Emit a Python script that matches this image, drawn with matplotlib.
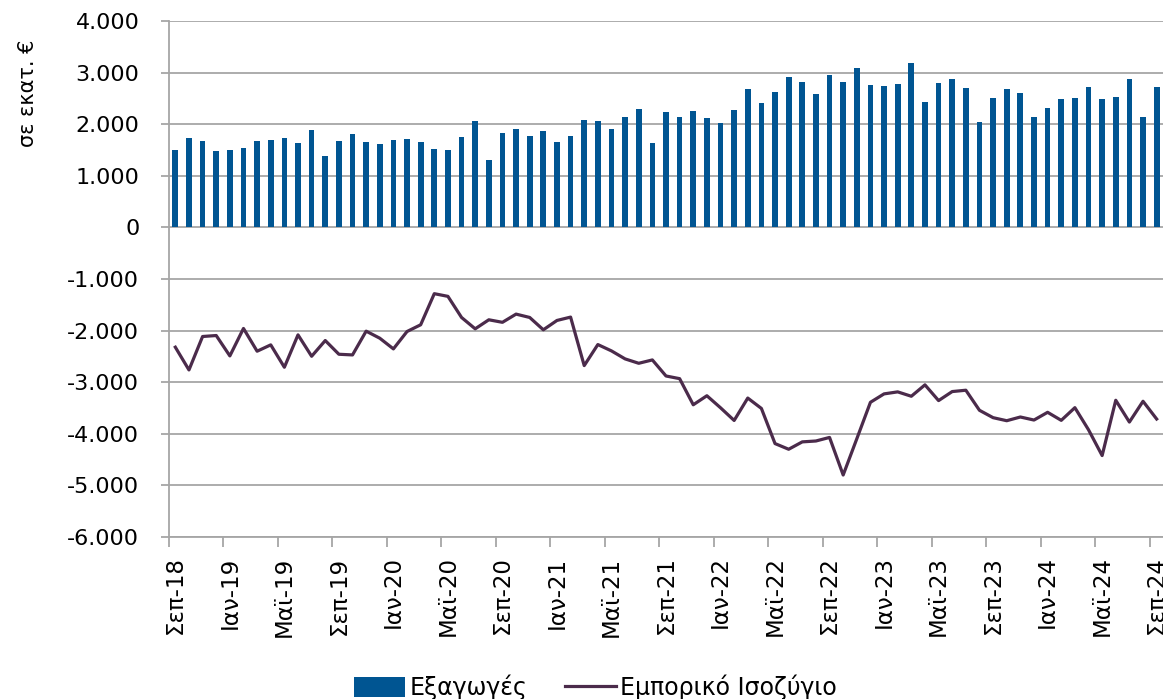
import numpy as np
import matplotlib
matplotlib.use("Agg")
import matplotlib.pyplot as plt
from matplotlib.ticker import FuncFormatter, FixedLocator

plt.rcParams['font.family'] = ['DejaVu Sans']

# monthly data, Sep-18 .. Sep-24 (million euro)
month_names = ['Ιαν', 'Φεβ', 'Μαρ', 'Απρ', 'Μαϊ', 'Ιουν',
               'Ιουλ', 'Αυγ', 'Σεπ', 'Οκτ', 'Νοε', 'Δεκ']
start_year, start_month, n_months = 2018, 9, 73

exports = [1497, 1737, 1672, 1484, 1497, 1542, 1672, 1685, 1737, 1640,
           1892, 1374, 1678, 1802, 1659, 1607, 1691, 1717, 1646, 1517,
           1504, 1756, 2054, 1309, 1828, 1912, 1776, 1866, 1659, 1776,
           2074, 2061, 1912, 2139, 2301, 1640, 2236, 2145, 2262, 2119,
           2029, 2281, 2683, 2417, 2625, 2923, 2826, 2592, 2949, 2813,
           3091, 2767, 2748, 2787, 3182, 2437, 2793, 2878, 2709, 2048,
           2502, 2677, 2612, 2132, 2307, 2489, 2515, 2716, 2495, 2528,
           2884, 2145, 2722]

balance = [-2322, -2763, -2115, -2096, -2491, -1959, -2400, -2277, -2711, -2083,
           -2498, -2193, -2459, -2472, -2011, -2148, -2355, -2018, -1888, -1285,
           -1337, -1746, -1966, -1791, -1840, -1681, -1746, -1985, -1804, -1739,
           -2679, -2271, -2394, -2549, -2634, -2569, -2880, -2932, -3438, -3263,
           -3496, -3742, -3308, -3509, -4190, -4300, -4157, -4140, -4071, -4799,
           -4097, -3390, -3227, -3188, -3273, -3052, -3357, -3182, -3156, -3545,
           -3688, -3747, -3675, -3734, -3584, -3740, -3494, -3922, -4422, -3351,
           -3773, -3370, -3714]

labels = []
for k in range(n_months):
    m = (start_month - 1 + k) % 12
    y = start_year + (start_month - 1 + k) // 12
    labels.append(f"{month_names[m]}-{y % 100:02d}")

bar_color = '#005592'
line_color = '#4b2b4b'
grid_color = '#a6a6a6'

fig = plt.figure(figsize=(11.63, 6.99), dpi=100)
ax = fig.add_axes([0.1449, 0.2318, 0.8555, 0.7382])

x = np.arange(n_months)
bars = ax.bar(x, exports, width=0.42, color=bar_color, zorder=3)
line, = ax.plot(x, balance, color=line_color, lw=2.3, zorder=4)

ax.set_xlim(-0.5, n_months - 0.5)
ax.set_ylim(-6000, 4000)
ax.set_yticks(np.arange(-6000, 4001, 1000))
ax.yaxis.set_major_formatter(FuncFormatter(lambda v, p: f"{int(v):,}".replace(',', '.')))
ax.grid(axis='y', color=grid_color, lw=1.3, zorder=0)

# category labels every 4 months, tick marks on category boundaries
ax.xaxis.set_major_locator(FixedLocator(x[::4]))
ax.set_xticklabels(labels[::4], rotation=90)
ax.xaxis.set_minor_locator(FixedLocator(np.arange(-0.5, n_months, 4)))
ax.tick_params(axis='x', which='major', length=0, pad=14, labelsize=16.5)
ax.tick_params(axis='x', which='minor', length=7, width=1.3, color=grid_color)
ax.tick_params(axis='y', length=6, width=1.3, color=grid_color, labelsize=16, pad=15)

for s in ['top', 'right']:
    ax.spines[s].set_visible(False)
for s in ['left', 'bottom']:
    ax.spines[s].set_color(grid_color)
    ax.spines[s].set_linewidth(1.3)

fig.text(0.024, 0.867, 'σε εκατ. €', rotation=90, ha='center', va='center', fontsize=15)

fig.legend([bars, line], ['Εξαγωγές', 'Εμπορικό Ισοζύγιο'],
           loc='center', bbox_to_anchor=(0.512, 0.017), ncol=2, frameon=False,
           fontsize=17, handlelength=2.15, handleheight=0.95, columnspacing=1.6,
           handletextpad=0.2)

fig.savefig('out.png', dpi=100)
